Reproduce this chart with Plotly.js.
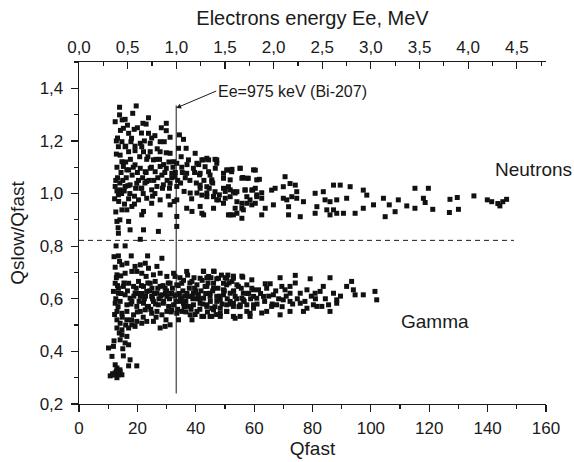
<!DOCTYPE html>
<html>
<head>
<meta charset="utf-8">
<script src="https://cdn.plot.ly/plotly-3.0.1.min.js"></script>
<style>
  html, body { margin: 0; padding: 0; background: #fff; }
  #chart { width: 574px; height: 462px; }
</style>
</head>
<body>
<div id="chart"></div>
<script>
// Pulse-shape discrimination: Qslow/Qfast versus Qfast.
// Upper band: neutron events; lower band: gamma events.

const neutronQfast = [
  13.9,19.6,12.4,13.9,15.8,18.4,23.8,15.2,18.9,21.9,23.0,29.9,29.9,17.0,13.2,14.7,17.8,23.8,24.9,24.4,
  21.0,21.5,27.8,29.2,34.4,35.8,31.2,13.5,15.8,17.0,14.1,19.2,22.1,24.4,23.2,25.5,27.8,29.9,31.2,34.1,
  36.7,39.8,32.4,33.5,35.0,37.5,40.4,42.1,43.8,47.2,50.6,52.4,55.2,59.8,14.7,15.2,17.0,19.2,21.0,22.7,
  24.4,26.1,27.8,29.9,31.8,32.9,35.2,36.9,39.2,41.3,44.4,45.5,46.7,49.5,51.8,56.1,57.5,60.9,12.4,14.1,
  15.8,17.5,19.8,21.5,23.2,24.9,26.7,28.9,31.2,33.5,36.0,38.1,40.4,41.5,43.8,46.1,48.1,50.1,51.8,53.5,
  56.9,59.5,60.9,13.5,14.7,16.4,18.1,20.4,23.2,24.9,27.8,31.2,33.5,36.9,38.7,41.5,42.7,47.2,49.5,51.8,
  54.1,55.8,57.5,59.2,13.0,17.0,22.1,21.5,27.8,13.5,17.5,22.1,27.2,33.5,33.5,21.0,
  12.6,13.2,14.0,15.0,16.2,17.4,18.2,19.4,13.0,14.4,16.0,18.6,12.8,15.5,17.0,19.0,13.6,16.8,20.4,21.8,
  22.6,24.0,25.6,27.0,28.4,30.2,31.8,33.0,32.2,30.8,29.0,26.4,23.6,20.8,18.0,14.2,16.6,22.4,26.8,28.6,
  25.2,22.0,19.0,30.6,32.6,34.8,36.4,38.0,39.6,41.0,42.8,44.6,45.8,
  12.2,13.0,14.6,15.6,16.4,17.6,19.2,20.0,21.2,23.0,24.8,26.0,27.6,29.4,31.0,33.8,35.4,37.0,38.6,40.2,
  12.8,14.8,16.0,20.0,21.4,26.0,28.2,12.6,14.0,13.4,
  42.6,44.4,46.6,47.2,43.2,41.5,44.9,49.5,51.2,52.3,55.2,60.4,61.8,58.0,55.8,45.5,41.5,43.8,46.6,49.5,
  51.2,52.9,54.1,56.9,59.2,60.4,62.6,66.0,67.2,70.0,70.6,72.3,74.1,74.6,76.9,42.1,43.8,46.1,47.8,50.1,
  51.8,54.1,55.8,57.5,58.6,60.9,62.6,70.0,71.2,71.8,72.9,74.6,66.6,63.8,60.4,56.3,53.5,51.2,52.9,55.8,
  62.6,71.8,75.8,42.1,46.1,80.9,83.7,84.3,87.2,89.5,92.9,97.4,98.6,91.7,88.3,86.0,81.5,80.9,84.9,87.2,
  88.3,90.6,94.6,97.4,100.9,104.3,109.4,104.9,108.3,86.0,
  106.3,112.3,115.1,115.1,118.0,118.6,119.7,121.2,127.1,126.9,129.6,130.0,135.3,139.9,141.4,144.2,145.2,146.5,143.5
];
const neutronRatio = [
  1.328,1.333,1.273,1.299,1.282,1.305,1.288,1.248,1.244,1.267,1.264,1.267,1.239,1.229,1.211,1.197,1.197,1.229,1.211,1.191,
  1.191,1.178,1.197,1.197,1.223,1.206,1.214,1.178,1.178,1.159,1.146,1.163,1.159,1.159,1.130,1.128,1.159,1.155,1.153,1.172,
  1.172,1.153,1.121,1.115,1.140,1.128,1.115,1.128,1.134,1.128,1.090,1.092,1.096,1.090,1.121,1.103,1.090,1.109,1.096,1.083,
  1.096,1.083,1.103,1.096,1.077,1.064,1.100,1.077,1.096,1.071,1.083,1.052,1.096,1.058,1.052,1.061,1.058,1.052,1.027,1.014,
  1.027,1.033,1.039,1.020,1.046,1.014,1.027,1.033,1.039,1.027,1.008,1.002,1.002,1.020,1.002,0.989,0.995,1.008,1.014,1.002,
  1.014,1.014,0.995,0.995,0.938,0.938,0.951,0.976,0.982,0.963,0.976,0.957,0.976,0.944,0.932,0.951,0.919,0.976,0.963,0.919,
  0.925,0.944,0.963,0.957,0.894,0.894,0.932,0.919,0.919,0.849,0.862,0.862,0.856,0.913,0.875,0.826,
  1.05,1.06,1.04,1.05,1.06,1.00,1.07,1.02,1.10,1.08,1.12,1.10,1.15,1.01,0.98,0.99,0.97,1.03,1.05,1.06,
  1.04,1.05,1.05,1.06,1.07,1.05,1.06,1.08,1.10,1.12,1.11,1.13,1.14,1.14,1.21,1.24,1.26,1.20,1.17,1.02,
  0.99,1.00,0.96,0.99,0.97,1.04,1.06,1.05,1.08,1.11,1.05,1.02,1.04,
  0.98,1.01,1.00,0.96,1.09,1.13,1.18,1.08,1.02,1.08,1.10,1.00,1.13,1.08,1.02,1.05,1.08,1.11,0.98,1.04,
  1.20,1.28,1.18,1.25,1.23,1.22,1.25,0.93,0.90,0.87,
  1.128,1.128,1.130,1.115,1.102,1.077,1.070,1.077,1.089,1.083,1.096,1.089,1.054,1.058,1.058,1.045,1.032,1.026,1.007,1.020,
  1.026,1.007,1.007,1.013,1.013,1.020,1.003,1.013,1.020,1.026,1.064,1.038,1.032,1.007,0.969,0.994,0.988,0.988,0.976,0.982,
  0.988,0.969,0.963,0.988,0.976,0.988,0.982,0.982,0.976,0.950,0.988,0.982,0.957,0.944,0.963,0.938,0.944,0.919,0.919,0.906,
  0.919,0.919,0.912,0.925,0.944,1.001,1.007,0.976,1.032,1.032,1.026,1.013,0.994,0.982,0.976,0.969,0.950,0.925,0.938,0.938,
  0.925,0.925,0.925,0.944,0.957,0.982,0.976,0.912,0.931,0.919,
  0.957,0.953,1.020,0.944,0.982,0.966,1.020,0.940,0.978,0.928,0.985,0.940,0.991,0.976,0.969,0.953,0.969,0.978,0.962
];

const gammaQfast = [
  12.7,15.8,17.9,23.5,28.4,13.5,13.9,14.7,16.4,19.2,21.0,22.7,23.8,26.7,13.0,14.3,15.8,18.1,19.8,21.5,
  23.0,25.5,27.8,30.1,32.4,32.9,36.9,42.7,46.3,41.5,44.4,47.8,50.6,52.9,56.1,12.4,13.5,15.2,17.0,18.7,
  20.4,22.1,24.4,26.1,27.8,29.5,31.2,33.5,35.2,38.7,40.4,43.8,46.1,49.5,52.4,54.6,57.5,59.8,11.8,13.5,
  15.8,17.5,19.2,21.0,23.2,24.9,26.7,28.4,30.1,31.8,33.5,35.2,37.5,39.2,40.9,42.7,44.9,47.2,49.5,51.8,
  53.5,55.8,58.1,60.9,12.4,14.1,16.4,18.1,19.8,22.1,23.8,25.5,27.2,28.9,30.7,32.4,34.1,35.8,37.5,39.2,
  41.5,43.8,45.5,47.2,50.6,52.9,55.2,57.5,59.8,13.0,14.7,16.4,18.7,21.0,22.7,24.9,26.7,28.4,30.1,31.8,
  33.5,35.2,38.1,40.4,42.7,45.5,48.4,50.6,53.5,55.2,58.6,13.0,14.1,16.4,18.1,19.8,21.5,23.2,25.5,27.8,
  29.5,31.2,34.1,38.7,13.0,14.7,17.0,19.2,14.7,16.4,14.1,15.8,10.1,11.8,17.0,11.3,15.2,17.5,19.8,17.0,
  12.4,13.0,10.7,12.4,13.5,14.7,14.1,12.0,13.0,14.0,12.8,11.5,13.6,
  12.6,13.4,14.4,15.4,16.6,17.8,18.8,19.6,20.6,21.6,22.4,23.4,24.2,25.2,26.2,27.0,28.0,29.0,30.0,31.0,
  32.0,33.2,34.4,35.6,36.6,37.8,39.0,40.0,41.2,12.2,14.8,16.0,13.8,15.0,12.0,18.0,20.0,22.0,24.6,26.4,
  29.8,31.6,33.8,36.0,38.4,12.0,12.4,12.8,13.2,
  20.2,21.4,22.8,23.6,25.0,25.8,27.4,28.8,29.6,30.6,31.4,32.8,34.0,34.8,35.8,36.2,37.0,38.0,38.8,39.6,
  40.6,41.8,42.4,43.4,44.2,45.0,45.8,46.6,47.6,48.2,49.0,49.8,50.8,51.4,52.0,53.0,54.0,54.8,55.6,56.6,
  57.8,58.8,36.6,39.8,41.4,44.0,47.0,34.6,37.2,39.4,42.2,45.2,48.8,51.0,61.0,62.2,63.6,65.0,66.2,67.4,
  68.4,69.6,71.0,73.2,74.8,77.4,79.6,81.0,84.4,89.6,
  42.6,46.1,43.8,47.2,50.1,52.9,55.8,59.2,63.8,65.5,68.9,74.1,79.2,86.0,91.7,93.4,83.7,69.5,72.3,74.1,
  70.6,75.8,78.1,80.9,82.6,87.2,88.3,94.0,94.6,97.4,101.4,102.0,88.3,85.5,83.2,80.3,78.1,75.8,72.3,70.0,
  67.7,66.0,64.3,62.6,59.8,57.5,55.2,52.9,50.6,48.4,46.1,43.8,42.1,44.9,48.4,52.9,58.6,68.9,72.3,76.9,
  81.5,86.0,72.3,66.6,63.2,59.8,56.3,52.9,49.5,46.1,43.2,44.9,48.4,51.8,56.3,61.5,64.3,59.2,54.1,50.6
];
const gammaRatio = [
  0.801,0.801,0.763,0.763,0.754,0.763,0.742,0.729,0.735,0.723,0.729,0.735,0.716,0.723,0.691,0.687,0.697,0.704,0.704,0.697,
  0.685,0.691,0.697,0.685,0.697,0.685,0.704,0.704,0.704,0.678,0.685,0.678,0.678,0.678,0.682,0.659,0.640,0.647,0.659,0.647,
  0.666,0.647,0.659,0.666,0.647,0.640,0.659,0.653,0.659,0.666,0.653,0.647,0.659,0.659,0.666,0.647,0.653,0.634,0.628,0.621,
  0.615,0.602,0.621,0.609,0.628,0.609,0.621,0.615,0.609,0.621,0.615,0.602,0.609,0.621,0.615,0.602,0.621,0.609,0.615,0.621,
  0.609,0.602,0.621,0.602,0.583,0.590,0.577,0.590,0.571,0.583,0.571,0.590,0.577,0.583,0.571,0.577,0.590,0.583,0.571,0.577,
  0.583,0.577,0.564,0.590,0.577,0.583,0.571,0.577,0.564,0.552,0.545,0.552,0.539,0.552,0.558,0.545,0.552,0.539,0.552,0.558,
  0.545,0.552,0.539,0.552,0.533,0.533,0.545,0.552,0.526,0.533,0.545,0.520,0.507,0.520,0.501,0.514,0.507,0.514,0.514,0.489,
  0.495,0.501,0.520,0.520,0.489,0.482,0.489,0.495,0.463,0.457,0.444,0.432,0.413,0.419,0.425,0.381,0.383,0.368,0.345,0.345,
  0.349,0.337,0.307,0.318,0.311,0.311,0.324,0.310,0.300,0.330,0.325,0.315,0.320,
  0.60,0.57,0.62,0.66,0.63,0.58,0.61,0.64,0.59,0.62,0.60,0.57,0.63,0.60,0.58,0.64,0.61,0.59,0.63,0.60,
  0.64,0.59,0.62,0.63,0.59,0.64,0.60,0.63,0.60,0.54,0.53,0.50,0.47,0.41,0.44,0.52,0.55,0.53,0.56,0.53,
  0.52,0.55,0.56,0.57,0.56,0.76,0.72,0.68,0.65,
  0.62,0.65,0.61,0.66,0.64,0.62,0.60,0.65,0.62,0.66,0.62,0.61,0.65,0.60,0.67,0.61,0.62,0.66,0.61,0.64,
  0.60,0.63,0.58,0.62,0.66,0.59,0.63,0.57,0.64,0.61,0.58,0.63,0.60,0.66,0.58,0.63,0.60,0.57,0.64,0.59,
  0.62,0.60,0.55,0.54,0.56,0.55,0.54,0.68,0.69,0.68,0.67,0.68,0.69,0.69,0.58,0.62,0.59,0.61,0.58,0.63,
  0.60,0.57,0.61,0.58,0.60,0.59,0.61,0.60,0.60,0.61,
  0.705,0.705,0.680,0.676,0.680,0.686,0.686,0.672,0.657,0.657,0.680,0.689,0.676,0.680,0.647,0.666,0.647,0.647,0.647,0.660,
  0.634,0.621,0.634,0.621,0.628,0.621,0.596,0.634,0.615,0.615,0.628,0.596,0.583,0.577,0.571,0.577,0.564,0.583,0.590,0.596,
  0.577,0.571,0.552,0.546,0.577,0.552,0.577,0.571,0.552,0.564,0.558,0.571,0.533,0.533,0.533,0.533,0.533,0.539,0.552,0.552,
  0.571,0.552,0.621,0.615,0.609,0.609,0.621,0.628,0.634,0.640,0.647,0.609,0.596,0.590,0.596,0.634,0.640,0.640,0.653,0.653
];

// Reference markers
const separationLevel = 0.822;     // neutron/gamma separation threshold
const separationEnd = 149;         // Qfast where the threshold line stops
const biQfast = 33.3;              // Qfast of the 975 keV Bi-207 conversion electrons
const biLineRange = [0.24, 1.335];
const energyRange = [0, 4.8];      // electron energy scale, MeV

const ink = '#1a1a1a';
const font = 'Liberation Sans, Arial, sans-serif';

const marker = { symbol: 'square', size: 5, color: '#111', line: { width: 0 } };

const traces = [
  { x: neutronQfast, y: neutronRatio, type: 'scatter', mode: 'markers', marker, name: 'Neutrons', hoverinfo: 'x+y' },
  { x: gammaQfast, y: gammaRatio, type: 'scatter', mode: 'markers', marker, name: 'Gamma', hoverinfo: 'x+y' },
  // carries the energy axis along the top
  { x: energyRange, y: [null, null], xaxis: 'x2', type: 'scatter', mode: 'markers', showlegend: false, hoverinfo: 'skip' }
];

const layout = {
  width: 574, height: 462,
  margin: { l: 79, r: 28, t: 62, b: 58 },
  paper_bgcolor: '#fff', plot_bgcolor: '#fff',
  separators: ',.',
  showlegend: false,
  font: { family: font, color: ink, size: 17 },
  xaxis: {
    range: [0, 160], dtick: 20, tick0: 0,
    ticks: 'outside', ticklen: 7, tickwidth: 1.2, tickcolor: ink,
    minor: { dtick: 10, ticks: 'outside', ticklen: 4, tickwidth: 1.2, tickcolor: ink },
    showline: true, linecolor: ink, linewidth: 1.3,
    showgrid: false, zeroline: false,
    tickfont: { size: 17 }, ticklabelstandoff: 1,
    title: { text: 'Qfast', font: { size: 19 }, standoff: 5 }
  },
  xaxis2: {
    overlaying: 'x', side: 'top', anchor: 'y',
    range: energyRange, dtick: 0.5, tick0: 0, tickformat: '.1f',
    ticks: 'inside', ticklen: 7, tickwidth: 1.2, tickcolor: ink,
    minor: { dtick: 0.25, ticks: 'inside', ticklen: 4, tickwidth: 1.2, tickcolor: ink },
    showline: true, linecolor: ink, linewidth: 1.3,
    showgrid: false, zeroline: false,
    tickfont: { size: 17 }, ticklabelstandoff: 1,
    title: { text: 'Electrons energy Ee, MeV', font: { size: 20 }, standoff: 7 }
  },
  yaxis: {
    range: [0.2, 1.5], dtick: 0.2, tick0: 0.2, tickformat: '.1f',
    ticks: 'outside', ticklen: 7, tickwidth: 1.2, tickcolor: ink,
    minor: { dtick: 0.1, ticks: 'outside', ticklen: 4, tickwidth: 1.2, tickcolor: ink },
    showline: true, linecolor: ink, linewidth: 1.3,
    showgrid: false, zeroline: false,
    tickfont: { size: 17 }, ticklabelstandoff: 4,
    title: { text: 'Qslow/Qfast', font: { size: 19 }, standoff: 10 }
  },
  shapes: [
    { type: 'line', xref: 'x', yref: 'y', x0: 0, x1: separationEnd, y0: separationLevel, y1: separationLevel,
      line: { color: ink, width: 1, dash: '5px,4px' } },
    { type: 'line', xref: 'x', yref: 'y', x0: biQfast, x1: biQfast, y0: biLineRange[0], y1: biLineRange[1],
      line: { color: ink, width: 1 } }
  ],
  annotations: [
    { xref: 'x', yref: 'y', x: biQfast, y: 1.325, text: 'Ee=975 keV (Bi-207)',
      showarrow: true, arrowhead: 2, arrowsize: 1, arrowwidth: 1, arrowcolor: ink,
      ax: 40, ay: -17, xanchor: 'left', yanchor: 'middle',
      font: { size: 16, color: ink } },
    { xref: 'paper', yref: 'y', x: 1.06, y: 1.09, text: 'Neutrons', showarrow: false,
      xanchor: 'right', font: { size: 19, color: ink } },
    { xref: 'x', yref: 'y', x: 122, y: 0.513, text: 'Gamma', showarrow: false,
      font: { size: 19, color: ink } }
  ]
};

Plotly.newPlot('chart', traces, layout, { staticPlot: true, displayModeBar: false });
</script>
</body>
</html>
